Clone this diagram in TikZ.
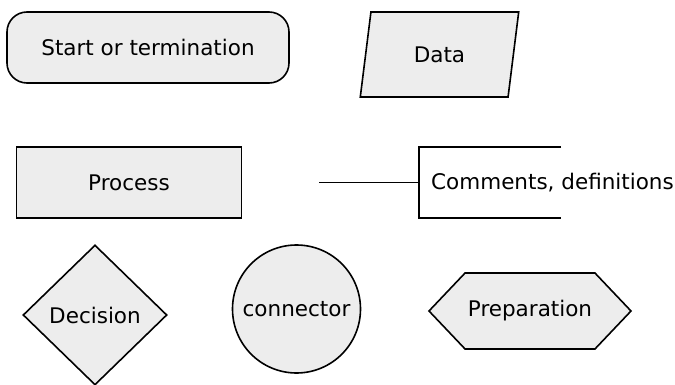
\documentclass[tikz,border=0pt]{standalone}
\usepackage{fontspec}
\setmainfont{DejaVu Sans}
\usetikzlibrary{shapes.geometric,shapes.symbols}
\definecolor{shapegray}{RGB}{237,237,237}
\begin{document}
\begin{tikzpicture}[x=1pt,y=-1pt,
				every node/.style={font=\fontsize{21.5}{26}\selectfont,inner sep=0pt},
				box/.style={draw,fill=shapegray,line width=1.6pt},
				terminal/.style={box,rectangle,rounded corners=20pt,minimum width=282pt,minimum height=71pt},
				iodata/.style={box,trapezium,trapezium left angle=76,trapezium right angle=104,
					trapezium stretches=true,minimum width=159pt,minimum height=85pt},
				process/.style={box,rectangle,minimum width=225pt,minimum height=71pt},
				decision/.style={box,diamond,minimum width=144pt,minimum height=140pt},
				connector/.style={box,circle,minimum size=128pt},
				prep/.style={box,signal,signal to=west and east,signal pointer angle=93,
					minimum width=202pt,minimum height=76pt},
				line/.style={line width=1.6pt}]
\useasboundingbox (0,0) rectangle (675,385);
\node[terminal] (start) at (148,47.5) {Start or termination};
\node[iodata] (data) at (439.5,54.5) {Data};
\node[process] (proc) at (129,182.5) {Process};
\node[anchor=west,minimum height=71pt,inner xsep=12pt] (cmt) at (419,182.5) {Comments, definitions};
\coordinate (stub) at (319,182.5);
\draw[line] (stub) -- (cmt.west);
\draw[line] ([xshift=142pt]cmt.north west) -- (cmt.north west) -- (cmt.south west) -- ([xshift=142pt]cmt.south west);
\node[decision] (dec) at (95,315) {Decision};
\node[connector] (conn) at (296.5,309) {connector};
\node[prep] (prep) at (530,311) {Preparation};
\end{tikzpicture}
\end{document}
